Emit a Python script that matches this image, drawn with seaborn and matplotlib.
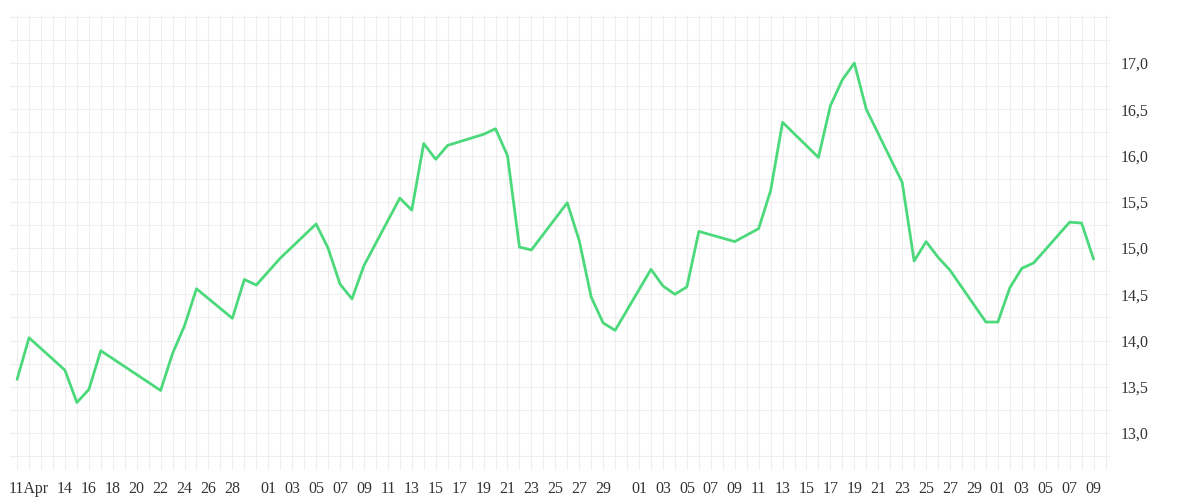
import matplotlib
matplotlib.use("Agg")
import matplotlib.pyplot as plt
import numpy as np
import pandas as pd
import seaborn as sns

# day offsets from 10 Apr and closing values
day_offset = [0, 1, 4, 5, 6, 7, 12, 13, 14, 15, 18, 19, 20, 22, 25, 26, 27, 28, 29,
              32, 33, 34, 35, 36, 39, 40, 41, 42, 43, 46, 47, 48, 49, 50, 53, 54, 55,
              56, 57, 60, 61, 62, 63, 64, 67, 68, 69, 70, 71, 74, 75, 76, 77, 78, 81,
              82, 83, 84, 85, 88, 89, 90]
values = [13.58, 14.03, 13.68, 13.33, 13.47, 13.89, 13.46, 13.86, 14.16, 14.56,
          14.24, 14.66, 14.60, 14.89, 15.26, 15.00, 14.61, 14.45, 14.81, 15.54,
          15.41, 16.13, 15.96, 16.11, 16.23, 16.29, 16.00, 15.01, 14.98, 15.49,
          15.08, 14.47, 14.19, 14.11, 14.77, 14.59, 14.50, 14.58, 15.18, 15.07,
          15.14, 15.21, 15.62, 16.36, 15.98, 16.54, 16.82, 17.00, 16.50, 15.71,
          14.86, 15.07, 14.90, 14.76, 14.20, 14.20, 14.57, 14.78, 14.84, 15.28,
          15.27, 14.88]
tick_dates = (["2024-04-11"] + [f"2024-04-{d:02d}" for d in range(14, 29, 2)]
              + [f"2024-05-{d:02d}" for d in range(1, 30, 2)]
              + [f"2024-06-{d:02d}" for d in range(1, 30, 2)]
              + [f"2024-07-{d:02d}" for d in range(1, 10, 2)])
tick_labels = ["11Apr"] + [d[-2:] for d in tick_dates[1:]]
y_ticks = [13.0, 13.5, 14.0, 14.5, 15.0, 15.5, 16.0, 16.5, 17.0]

dates = pd.Timestamp("2024-04-10") + pd.to_timedelta(day_offset, unit="D")
df = pd.DataFrame({"date": dates, "value": values})

sns.set_style("white")
plt.rcParams["font.family"] = ["Liberation Serif", "DejaVu Serif"]

fig = plt.figure(figsize=(12, 5), dpi=100)
ax = fig.add_axes([0.008, 0.06, 0.917, 0.91])
sns.lineplot(data=df, x="date", y="value", ax=ax, color="#4cd97b", linewidth=2.0)

start = pd.Timestamp("2024-04-09 09:00")
end = pd.Timestamp("2024-07-10 09:00")
ax.set_xlim(start, end)
ax.set_ylim(12.6, 17.52)

# daily vertical grid, quarter-unit horizontal grid
ax.set_xticks(pd.date_range("2024-04-10", "2024-07-10", freq="D"), minor=True)
ax.set_yticks(np.arange(12.75, 17.51, 0.25), minor=True)
ax.grid(which="both", color="#eeeeee", linewidth=0.8)
ax.set_axisbelow(True)

ax.set_xticks(pd.to_datetime(tick_dates))
ax.set_xticklabels(tick_labels, fontsize=11.5, color="#333333")
ax.yaxis.tick_right()
ax.set_yticks(y_ticks)
ax.set_yticklabels([f"{v:.1f}".replace(".", ",") for v in y_ticks],
                   fontsize=11.5, color="#333333")
ax.tick_params(which="both", length=0, pad=8)
ax.set_xlabel("")
ax.set_ylabel("")
for s in ax.spines.values():
    s.set_visible(False)

fig.savefig("out.png", dpi=100)
